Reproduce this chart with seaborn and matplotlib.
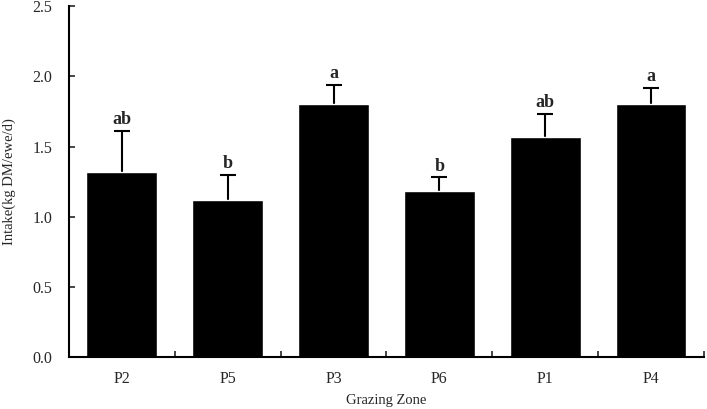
import numpy as np
import pandas as pd
import seaborn as sns
import matplotlib.pyplot as plt

# Intake per grazing zone, with upper error bars and significance letters
zones = ["P2", "P5", "P3", "P6", "P1", "P4"]
intake = [1.32, 1.12, 1.80, 1.18, 1.57, 1.80]
err = [0.29, 0.18, 0.14, 0.10, 0.16, 0.12]
letters = ["ab", "b", "a", "b", "ab", "a"]

df = pd.DataFrame({"zone": zones, "intake": intake})

sns.set_style("ticks")
plt.rcParams["font.family"] = ["Liberation Serif", "DejaVu Serif"]

fig = plt.figure(figsize=(7.07, 4.09), dpi=100)
ax = fig.add_axes([0.0976, 0.127, 0.898, 0.858])

sns.barplot(data=df, x="zone", y="intake", order=zones, color="black",
            width=0.67, saturation=1, errorbar=None, ax=ax, zorder=2)

# symmetric bars drawn behind the black bars, so only the upper half shows
x = np.arange(len(zones))
ax.errorbar(x, intake, yerr=err, fmt="none", ecolor="black",
            elinewidth=1.5, capsize=5.5, capthick=1.5, zorder=1)

for xi, v, e, lab in zip(x, intake, err, letters):
    ax.text(xi, v + e + 0.02, lab, ha="center", va="bottom",
            fontsize=13, fontweight="bold")

ax.set_ylim(0, 2.5)
ax.set_xlim(-0.5, len(zones) - 0.5)
ax.set_yticks([0, 0.5, 1.0, 1.5, 2.0, 2.5])
ax.set_yticklabels(["0.0", "0.5", "1.0", "1.5", "2.0", "2.5"])
ax.set_xticks(x)
ax.set_xticks(np.arange(-0.5, len(zones), 1.0), minor=True)
ax.tick_params(axis="x", which="major", length=0, pad=10, labelsize=11.5)
ax.tick_params(axis="x", which="minor", direction="in", length=4, width=1.2)
ax.tick_params(axis="y", direction="in", length=4, width=1.2, labelsize=11.5, pad=12)

ax.set_xlabel("Grazing Zone", fontsize=10.5, labelpad=5)
ax.set_ylabel("Intake(kg DM/ewe/d)", fontsize=10.5, labelpad=12)

sns.despine(ax=ax)
for s in ["left", "bottom"]:
    ax.spines[s].set_linewidth(1.5)
    ax.spines[s].set_color("black")

fig.savefig("out.png", dpi=100)
